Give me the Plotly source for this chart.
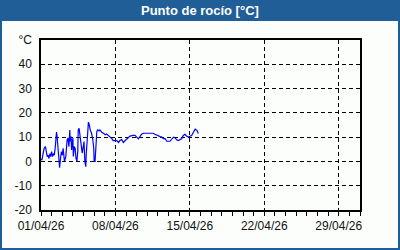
import plotly.graph_objects as go
import pandas as pd

# Hours since 2026-04-01 00:00 and dew point values (°C)
hours = [0, 2, 7, 10, 12, 14, 16, 18, 20, 22, 24, 26, 28, 30, 32, 33, 35, 36, 38, 40,
         42, 44, 46, 48, 50, 51, 53, 56, 57, 59, 61, 63, 65, 66, 68, 69, 72, 73, 75, 77,
         79, 81, 83, 84, 86, 88, 90, 92, 93, 96, 97, 99, 101, 102, 104, 105, 107, 109, 111, 114,
         117, 119, 120, 122, 124, 126, 128, 131, 133, 137, 141, 145, 148, 152, 156, 160, 163, 167, 171, 175,
         178, 182, 186, 190, 194, 197, 201, 208, 212, 216, 220, 224, 227, 231, 242, 253, 257, 265, 269, 273,
         276, 280, 284, 291, 295, 299, 303, 306, 310, 314, 318, 321, 325, 329, 333, 336, 340, 344, 348, 352, 355]
values = [1.0, 0.5, 5.4, 6.1, 4.0, 2.0, 2.6, 1.2, 3.2, 2.0, 4.0, 2.0, 3.2, 2.6, 5.4, 8.9, 12.1, 11.0, 6.8, 0.0,
          -2.6, 1.2, 4.0, 2.6, 5.4, 3.3, 0.0, 2.0, 6.1, 8.9, 9.6, 6.1, 12.9, 8.2, 10.3, 4.7, 9.6, 2.0, 6.1, 5.4,
          1.2, 0.0, 4.0, 13.0, 13.6, 10.9, 6.8, 6.1, 3.4, 6.8, 8.2, 0.0, -2.2, 2.6, 8.2, 13.6, 16.2, 15.1, 13.0, 11.7,
          8.9, 5.4, 0.0, 0.0, 10.3, 12.4, 13.0, 12.6, 13.0, 12.0, 11.6, 11.0, 11.3, 10.7, 10.0, 9.4, 8.6, 8.6, 8.6, 7.8,
          8.6, 9.0, 7.8, 8.6, 9.3, 10.0, 10.4, 10.7, 10.7, 10.0, 9.3, 10.4, 11.2, 11.6, 11.6, 11.6, 11.2, 10.4, 10.2, 10.0,
          9.4, 9.4, 8.3, 8.3, 9.4, 10.0, 9.7, 8.9, 8.6, 8.9, 9.4, 10.7, 11.2, 10.4, 10.0, 10.4, 10.7, 12.0, 13.3, 12.8, 11.5]

start = pd.Timestamp("2026-04-01 00:00")
times = [start + pd.Timedelta(hours=h) for h in hours]

y_ticks = [-20, -10, 0, 10, 20, 30, 40, 50]
y_ticktext = ["-20", "-10", "0", "10", "20", "30", "40", "°C"]
title_text = "Punto de rocío [°C]"

W, H = 400, 250
L, R, T, B = 41, 40, 40, 40
PW, PH = W - L - R, H - T - B
BLUE = "#1f5e96"
BG = "#fcfefc"


def px(x):
    return (x - L) / PW


def py(y):
    return (H - B - y) / PH


fig = go.Figure()
fig.add_trace(go.Scatter(x=times, y=values, mode="lines",
                         line=dict(color="#0000ff", width=1.2),
                         hoverinfo="skip", showlegend=False))

fig.update_layout(
    width=W, height=H,
    margin=dict(l=L, r=R, t=T, b=B, pad=0),
    paper_bgcolor=BG, plot_bgcolor=BG,
    font=dict(family="Liberation Sans, Arial, sans-serif", size=12, color="#111111"),
    showlegend=False,
    xaxis=dict(
        type="date",
        range=["2026-04-01 00:00", "2026-05-01 00:00"],
        tick0="2026-04-01", dtick=7 * 86400000,
        tickformat="%d/%m/%y",
        ticks="outside", ticklen=4, tickcolor="black", tickwidth=1,
        showgrid=True, gridcolor="black", gridwidth=1, griddash="4px,3px",
        showline=True, linecolor="black", linewidth=1.5, mirror=True,
        zeroline=False,
        minor=dict(dtick=86400000, tick0="2026-04-01", ticks="outside",
                   ticklen=4, tickcolor="black", showgrid=False),
        fixedrange=True,
    ),
    yaxis=dict(
        range=[-20, 50],
        tickvals=y_ticks, ticktext=y_ticktext,
        ticks="", ticklabelstandoff=5,
        showgrid=True, gridcolor="black", gridwidth=1, griddash="4px,3px",
        showline=True, linecolor="black", linewidth=1.5, mirror=True,
        zeroline=False,
        fixedrange=True,
    ),
    shapes=[
        dict(type="rect", xref="paper", yref="paper",
             x0=px(0), x1=px(W), y0=py(0), y1=py(21),
             fillcolor=BLUE, line=dict(width=0), layer="above"),
        dict(type="rect", xref="paper", yref="paper",
             x0=px(1), x1=px(W - 1), y0=py(1), y1=py(H - 1),
             fillcolor="rgba(0,0,0,0)", line=dict(color=BLUE, width=2), layer="above"),
    ],
    annotations=[
        dict(text="<b>" + title_text + "</b>", xref="paper", yref="paper",
             x=px(W / 2), y=py(10.5), xanchor="center", yanchor="middle",
             showarrow=False,
             font=dict(family="Liberation Sans, Arial, sans-serif", size=13, color="white")),
    ],
)

fig.write_html("out.html")
